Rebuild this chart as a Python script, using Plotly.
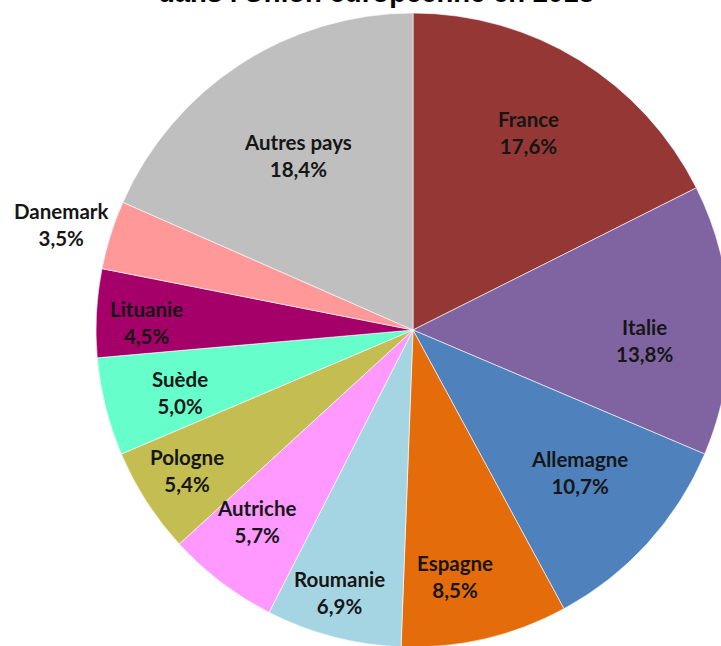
import math
import plotly.graph_objects as go

# Share of each country (percent), clockwise from 12 o'clock
countries = ["France", "Italie", "Allemagne", "Espagne", "Roumanie", "Autriche",
             "Pologne", "Suède", "Lituanie", "Danemark", "Autres pays"]
shares = [17.6, 13.8, 10.7, 8.5, 6.9, 5.7, 5.4, 5.0, 4.5, 3.5, 18.4]
colors = ["#953735", "#8064A2", "#4F81BD", "#E46C0A", "#A5D5E2", "#FF99FF",
          "#C4BD52", "#66FFCC", "#A50069", "#FF9999", "#BFBFBF"]
title_text = "dans l'Union européenne en 2018"

# Label placement: fraction of the radius and angular nudge (degrees)
label_radius = [0.72, 0.73, 0.69, 0.79, 0.86, 0.78, 0.84, 0.76, 0.84, 1.16, 0.66]
label_nudge = [-1.4, 4.3, -1.7, 3.5, 1.0, 2.1, 0.9, -1.0, -1.5, -0.8, -0.2]

W, H = 740, 660
CX, CY, R = 413, 330, 317

fig = go.Figure(go.Pie(
    labels=countries,
    values=shares,
    sort=False,
    direction="clockwise",
    rotation=0,
    marker=dict(colors=colors, line=dict(color="rgba(255,255,255,0.6)", width=1)),
    textinfo="none",
    hole=0,
    domain=dict(x=[(CX - R) / W, (CX + R) / W], y=[1 - (CY + R) / H, 1 - (CY - R) / H]),
    showlegend=False,
))

total = sum(shares)
cum = 0.0
annotations = []
for name, v, k, nudge in zip(countries, shares, label_radius, label_nudge):
    mid = (cum + v / 2) / total * 360 + nudge
    cum += v
    px = CX + k * R * math.sin(math.radians(mid))
    py = CY - k * R * math.cos(math.radians(mid))
    annotations.append(dict(
        x=px / W, y=1 - py / H, xref="paper", yref="paper",
        text=f"{name}<br>{v:.1f}%".replace(".", ","),
        showarrow=False, xanchor="center", yanchor="middle",
        font=dict(family="Lato", size=20.5, color="#161616", weight="bold"),
    ))

annotations.append(dict(
    x=376 / W, y=1 - 10 / H, xref="paper", yref="paper",
    text=f"<b>{title_text}</b>", showarrow=False,
    xanchor="center", yanchor="bottom",
    font=dict(family="Liberation Sans, Arial", size=27.5, color="#000000"),
))

fig.update_layout(
    width=W, height=H,
    margin=dict(l=0, r=0, t=0, b=0),
    paper_bgcolor="white",
    plot_bgcolor="white",
    annotations=annotations,
)

fig.write_html(
    "out.html",
    post_script="document.documentElement.style.overflow='hidden';document.body.style.overflow='hidden';",
)
